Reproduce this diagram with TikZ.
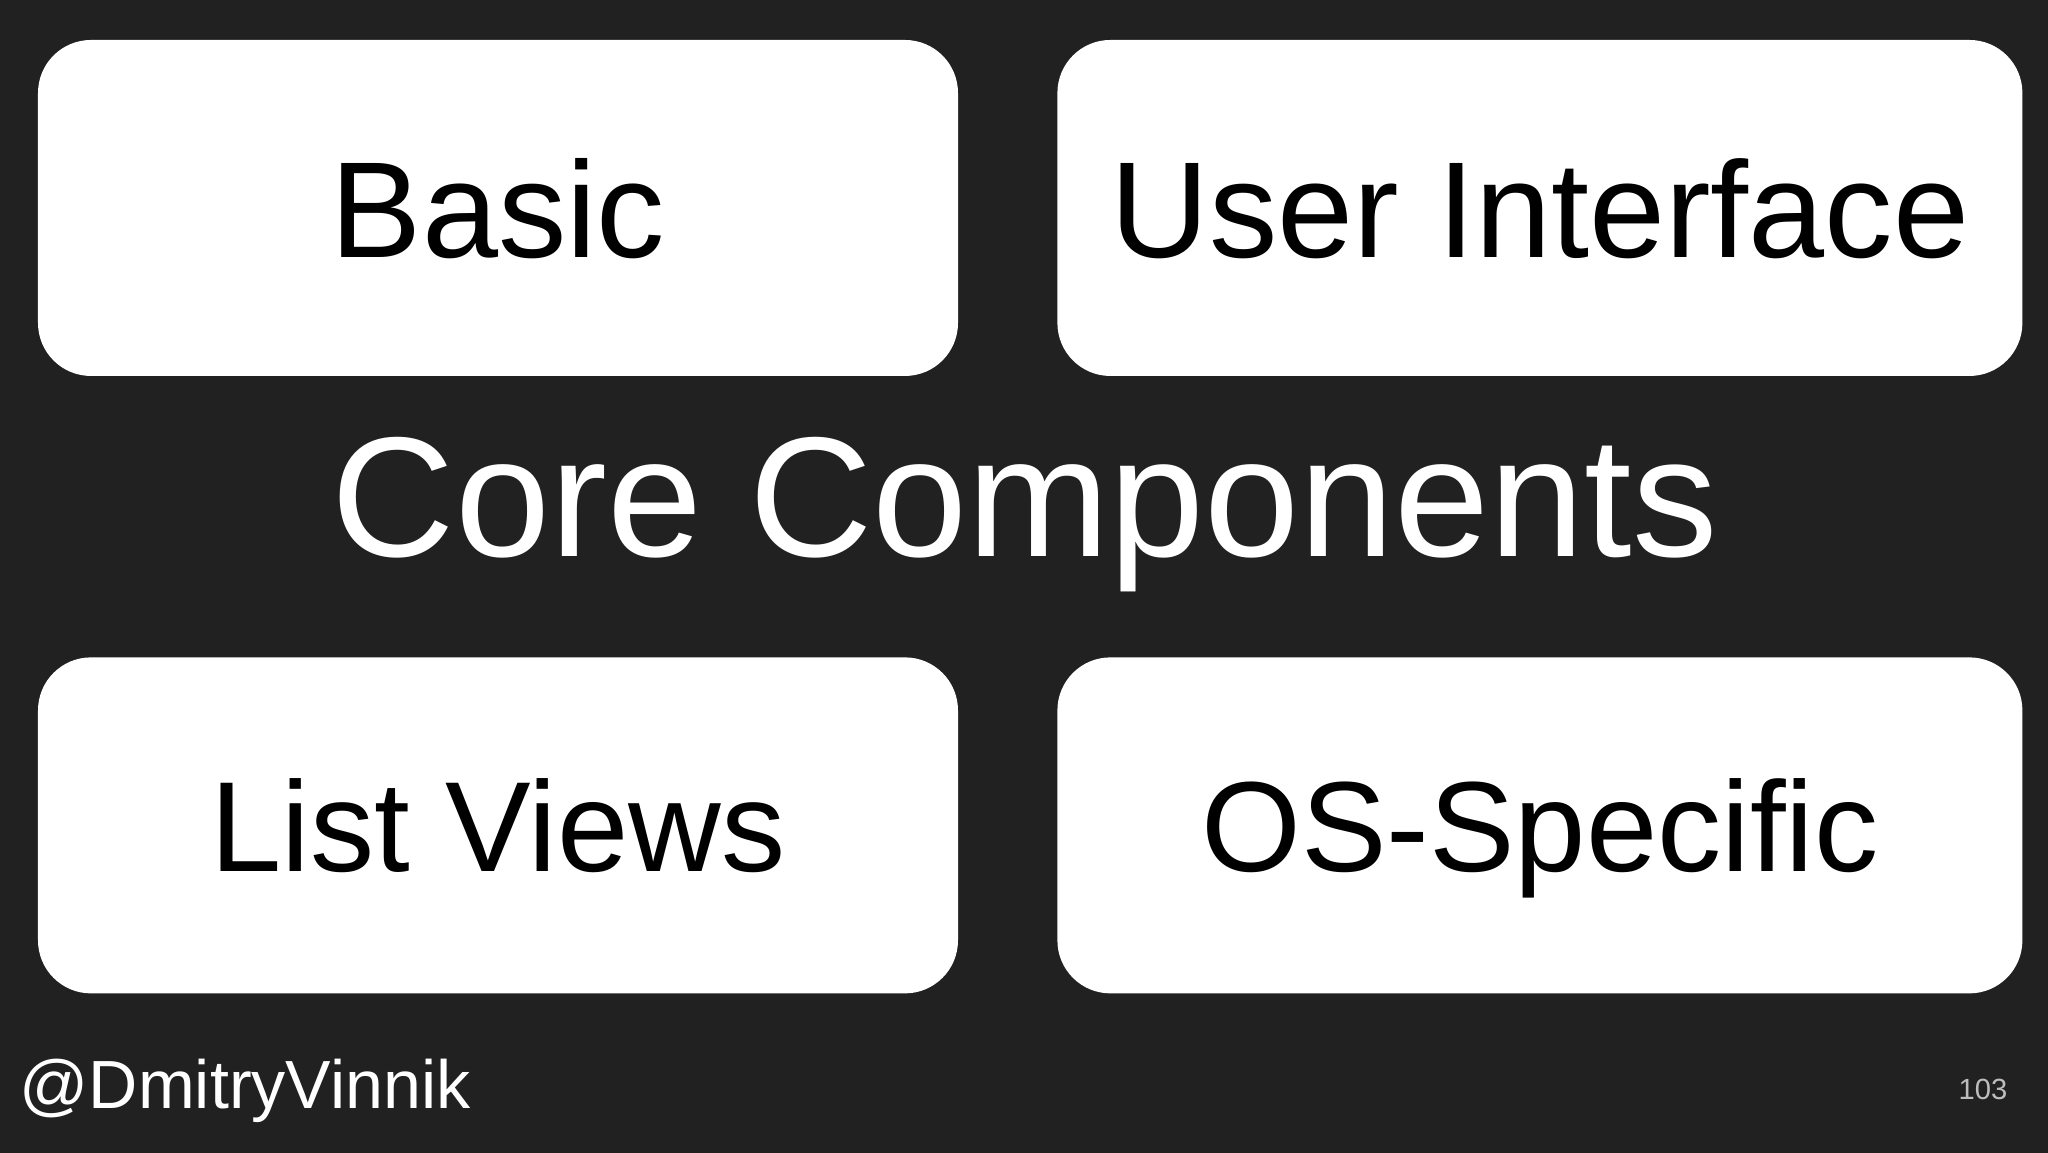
\documentclass[tikz,border=0pt]{standalone}
\usepackage{fontspec}
\setmainfont{Liberation Sans}
\usepackage{tikz}
\usetikzlibrary{positioning}
\definecolor{slidebg}{HTML}{212121}
\definecolor{pagenum}{HTML}{BDBDBD}
\tikzstyle{tile} = [rectangle, 
fill=white, 
rounded corners=0.53cm, 
minimum height=3.36cm, 
inner sep=0pt, 
text depth=0pt, 
text=black]
\tikzstyle{toptile} = [tile, text height=27.9pt, font=\fontsize{38.9}{44}\selectfont]
\tikzstyle{lowtile} = [tile, text height=26.1pt, font=\fontsize{36.5}{42}\selectfont]

\begin{document}
\begin{tikzpicture}
    \fill [slidebg] (0,0) rectangle (20.48,11.53);
    \node [toptile, minimum width=9.20cm] (Basic) at (4.98,9.45) {Basic};
    \node [toptile, minimum width=9.65cm, right=0.98cm of Basic] (UI) {User Interface};
    \node [lowtile, minimum width=9.20cm, below=2.80cm of Basic] (List) {List Views};
    \node [lowtile, minimum width=9.65cm, below=2.80cm of UI] (OS) {OS-Specific};
    %% Titles
    \node [anchor=base, inner sep=0pt, text=white, font=\fontsize{48.6}{56}\selectfont] (Core) at (10.25,5.96) {Core Components};
    \node [anchor=base west, inner sep=0pt, text=white, font=\fontsize{19.4}{23}\selectfont] (Handle) at (0.19,0.44) {@DmitryVinnik};
    \node [anchor=base west, inner sep=0pt, text=pagenum, font=\fontsize{8.3}{10}\selectfont] (Page) at (19.58,0.53) {103};
  \end{tikzpicture}
\end{document}
